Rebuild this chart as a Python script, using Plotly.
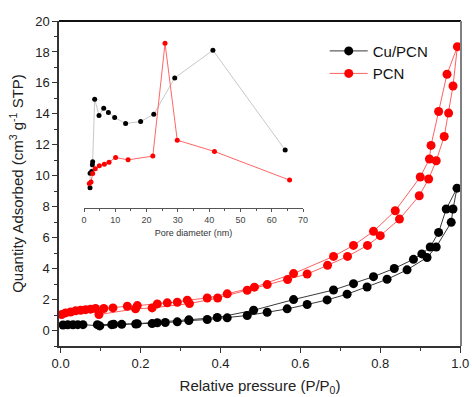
import plotly.graph_objects as go

# ---- main isotherm data (P/P0, quantity adsorbed) ----
cu_ads_x = [0.006, 0.018, 0.031, 0.043, 0.056, 0.098, 0.128, 0.153, 0.188, 0.229, 0.262, 0.292,
            0.321, 0.367, 0.417, 0.467, 0.517, 0.567, 0.617, 0.667, 0.717, 0.767, 0.817, 0.867,
            0.917, 0.940, 0.9775, 0.982, 0.992]
cu_ads_y = [0.36, 0.37, 0.37, 0.38, 0.38, 0.30, 0.38, 0.40, 0.42, 0.45, 0.52, 0.56,
            0.64, 0.71, 0.82, 0.97, 1.18, 1.40, 1.68, 1.98, 2.35, 2.81, 3.31, 3.92,
            4.72, 5.40, 6.99, 7.85, 9.20]
cu_des_x = [0.992, 0.965, 0.946, 0.925, 0.904, 0.883, 0.835, 0.783, 0.733, 0.683, 0.583, 0.483,
            0.392, 0.321, 0.242, 0.192, 0.133, 0.092]
cu_des_y = [9.20, 7.85, 6.34, 5.40, 4.95, 4.60, 4.01, 3.48, 3.03, 2.62, 2.00, 1.31,
            0.84, 0.69, 0.50, 0.44, 0.40, 0.38]

pcn_ads_x = [0.096, 0.1875, 0.229, 0.3225, 0.393, 0.467, 0.517, 0.568, 0.617, 0.668, 0.718,
             0.768, 0.800, 0.848, 0.8975, 0.921, 0.940, 0.960, 0.971, 0.982, 0.993]
pcn_ads_y = [1.03, 1.40, 1.46, 1.74, 2.10, 2.60, 2.97, 3.29, 3.65, 4.21, 4.79,
             5.50, 6.13, 7.20, 8.71, 9.79, 10.97, 12.54, 14.05, 15.80, 18.34]
pcn_des_x = [0.993, 0.967, 0.946, 0.927, 0.923, 0.900, 0.8375, 0.783, 0.733, 0.683, 0.583, 0.485,
             0.417, 0.367, 0.317, 0.292, 0.267, 0.242, 0.192, 0.167, 0.131, 0.108, 0.0875,
             0.075, 0.0625, 0.050, 0.0375, 0.025, 0.0125, 0.0025]
pcn_des_y = [18.34, 16.56, 14.15, 11.96, 11.08, 9.92, 7.74, 6.41, 5.50, 4.79, 3.68, 2.80,
             2.37, 2.10, 1.96, 1.83, 1.79, 1.72, 1.61, 1.57, 1.46, 1.42, 1.42,
             1.38, 1.35, 1.31, 1.27, 1.20, 1.14, 1.03]

# ---- inset pore size distribution (pore diameter nm, relative value) ----
cu_pore_x = [1.92, 1.95, 2.45, 2.67, 2.77, 3.41, 4.8, 6.3, 7.8, 9.8, 13.3, 18.1, 22.3, 29.0, 41.2, 64.3]
cu_pore_y = [9.23, 10.17, 10.28, 10.71, 10.90, 14.95, 13.90, 14.37, 14.09, 13.76, 13.38, 13.50,
             13.98, 16.32, 18.11, 11.66]
pcn_pore_x = [1.70, 2.24, 2.77, 3.6, 4.9, 6.5, 8.0, 10.1, 14.1, 22.0, 25.9, 29.8, 41.7, 65.7]
pcn_pore_y = [9.50, 9.59, 10.15, 10.45, 10.65, 10.75, 10.88, 11.18, 11.03, 11.27, 18.56, 12.30,
              11.57, 9.72]

FONT = "Arial, Liberation Sans, sans-serif"

fig = go.Figure()
fig.add_trace(go.Scatter(
    x=cu_ads_x + cu_des_x[1:], y=cu_ads_y + cu_des_y[1:], name="Cu/PCN",
    mode="lines+markers", line=dict(color="#3a3a3a", width=1),
    marker=dict(color="black", size=9)))
fig.add_trace(go.Scatter(
    x=pcn_ads_x + pcn_des_x[1:], y=pcn_ads_y + pcn_des_y[1:], name="PCN",
    mode="lines+markers", line=dict(color="#ff6060", width=1),
    marker=dict(color="#ff0000", size=9)))

fig.add_trace(go.Scatter(
    x=cu_pore_x, y=cu_pore_y, xaxis="x2", yaxis="y2", showlegend=False,
    mode="lines+markers", line=dict(color="#c8c8c8", width=1),
    marker=dict(color="black", size=5)))
fig.add_trace(go.Scatter(
    x=pcn_pore_x, y=pcn_pore_y, xaxis="x2", yaxis="y2", showlegend=False,
    mode="lines+markers", line=dict(color="#ff6666", width=1),
    marker=dict(color="#ff0000", size=5)))

fig.update_layout(
    width=472, height=397,
    margin=dict(l=59, r=11, t=21, b=51, autoexpand=False),
    paper_bgcolor="white", plot_bgcolor="white",
    font=dict(family=FONT, color="#222222"),
    showlegend=True,
    legend=dict(x=0.661, y=0.958, xanchor="left", yanchor="top",
                font=dict(size=15, color="#111111"), bgcolor="rgba(0,0,0,0)",
                tracegroupgap=0, itemwidth=38),
    xaxis=dict(range=[-0.004, 1.002], tickvals=[0, 0.2, 0.4, 0.6, 0.8, 1.0],
               ticktext=["0.0", "0.2", "0.4", "0.6", "0.8", "1.0"],
               ticks="outside", ticklen=5, tickwidth=1.2, tickcolor="#333",
               minor=dict(dtick=0.1, ticks="outside", ticklen=3, tickcolor="#333"),
               showline=True, linecolor="#333", linewidth=1.5, showgrid=False, zeroline=False,
               tickfont=dict(size=13), automargin=False,
               title=dict(text="Relative pressure (P/P<sub>0</sub>)", font=dict(size=15), standoff=10)),
    yaxis=dict(range=[-1, 20], dtick=2, tick0=0,
               ticks="outside", ticklen=5, tickwidth=1.2, tickcolor="#333",
               minor=dict(dtick=1, ticks="outside", ticklen=3, tickcolor="#333"),
               showline=True, linecolor="#333", linewidth=1.5, showgrid=False, zeroline=False,
               tickfont=dict(size=13), automargin=False,
               title=dict(text="Quantity Adsorbed (cm<sup>3</sup> g<sup>-1</sup> STP)",
                          font=dict(size=15), standoff=8)),
    xaxis2=dict(domain=[0.0622, 0.607], range=[0, 70], anchor="y2",
                tickvals=[0, 10, 20, 30, 40, 50, 60, 70],
                ticks="outside", ticklen=3, tickwidth=1, tickcolor="#555",
                minor=dict(dtick=5, ticks="outside", ticklen=2, tickcolor="#555"),
                showline=True, linecolor="#555", linewidth=1, showgrid=False, zeroline=False,
                tickfont=dict(size=9, color="#444"),
                title=dict(text="Pore diameter (nm)", font=dict(size=9, color="#333"), standoff=5)),
    yaxis2=dict(domain=[0.4246, 1.0], range=[7.917, 20], anchor="x2", visible=False),
    shapes=[
        dict(type="line", xref="paper", yref="paper", x0=0, x1=1, y0=1, y1=1,
             line=dict(color="#111", width=1.8)),
        dict(type="line", xref="paper", yref="paper", x0=1, x1=1, y0=0, y1=1,
             line=dict(color="#808080", width=2)),
    ],
)

fig.write_html("out.html")
